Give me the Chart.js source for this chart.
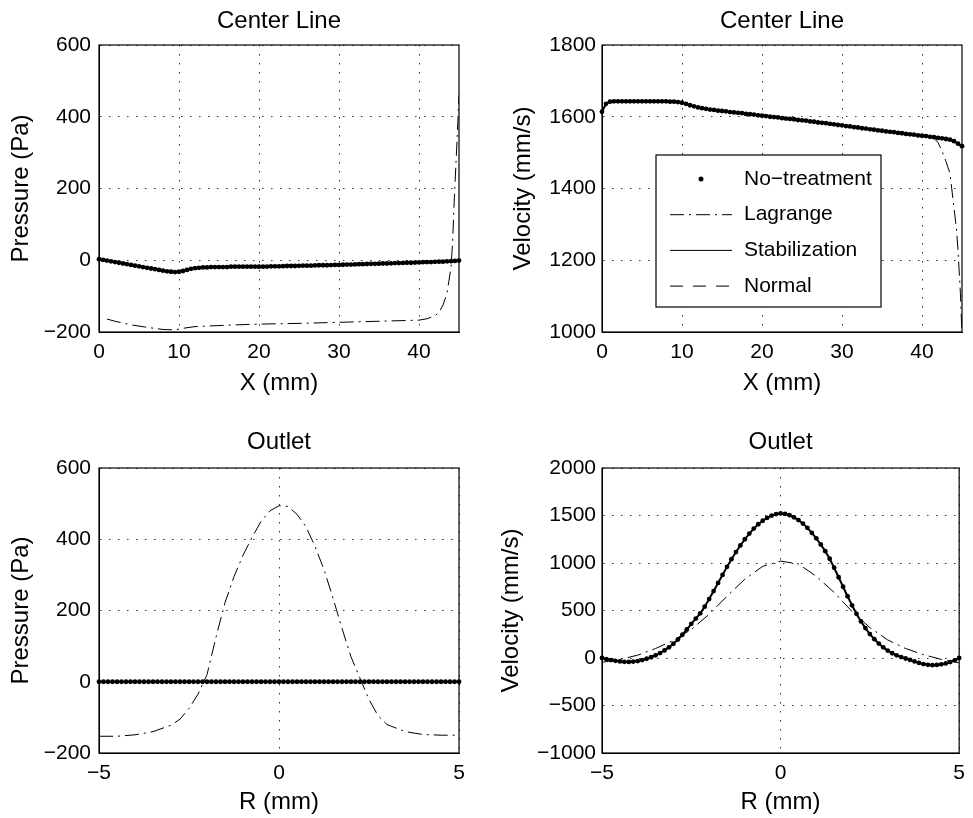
<!DOCTYPE html>
<html>
<head>
<meta charset="utf-8">
<script src="https://cdn.jsdelivr.net/npm/chart.js@4.4.1/dist/chart.umd.min.js"></script>
<style>
  html, body { margin: 0; padding: 0; background: #fff; }
  #wrap { position: relative; width: 973px; height: 818px; }
  canvas { position: absolute; }
</style>
</head>
<body>
<div id="wrap">
  <canvas id="tl" width="486" height="409" style="left:0;top:0"></canvas>
  <canvas id="tr" width="487" height="409" style="left:486px;top:0"></canvas>
  <canvas id="bl" width="486" height="409" style="left:0;top:409px"></canvas>
  <canvas id="br" width="487" height="409" style="left:486px;top:409px"></canvas>
</div>
<script>
const seriesNames = ['No\u2212treatment', 'Lagrange', 'Stabilization', 'Normal'];

// center line, X (mm)
const centerX = [
  0,0.5,1,1.5,2,2.5,3,3.5,4,4.5,
  5,5.5,6,6.5,7,7.5,8,8.5,9,9.5,
  10,10.5,11,11.5,12,12.5,13,13.5,14,14.5,
  15,15.5,16,16.5,17,17.5,18,18.5,19,19.5,
  20,20.5,21,21.5,22,22.5,23,23.5,24,24.5,
  25,25.5,26,26.5,27,27.5,28,28.5,29,29.5,
  30,30.5,31,31.5,32,32.5,33,33.5,34,34.5,
  35,35.5,36,36.5,37,37.5,38,38.5,39,39.5,
  40,40.5,41,41.5,42,42.5,43,43.5,44,44.5,
  45
];
const centerPressure = [
  3,1,-1,-3,-5,-7,-9,-11,-13,-15,
  -17,-19,-21,-23,-25,-27,-29,-31,-32,-33,
  -32,-30,-27,-24,-22,-21,-20,-20,-19,-19,
  -19,-19,-19,-18,-18,-18,-18,-18,-18,-18,
  -18,-18,-17.5,-17,-17,-17,-16.5,-16,-16,-16,
  -15.5,-15,-15,-15,-14.5,-14,-14,-14,-13.5,-13,
  -13,-12.5,-12,-12,-11.5,-11,-11,-10.5,-10,-10,
  -9.5,-9,-9,-8.5,-8,-8,-7.5,-7,-7,-6.5,
  -6,-5.5,-5,-5,-4.5,-4,-4,-3,-2.5,-2,
  -1
];
const centerVelocity = [
  1614,1636,1642,1643,1643,1643,1643,1643,1643,1643,
  1643,1643,1643,1643,1643,1643,1643,1642,1642,1641,
  1639,1636,1632,1629,1626,1624,1622,1620,1619,1617,
  1616,1615,1613,1612,1611,1610,1608,1607,1606,1604,
  1603,1602,1600,1599,1598,1596,1595,1594,1593,1591,
  1590,1589,1587,1586,1584,1583,1582,1580,1579,1577,
  1576,1574,1573,1571,1570,1568,1567,1565,1564,1562,
  1561,1559,1558,1557,1555,1554,1552,1551,1550,1548,
  1547,1546,1544,1543,1541,1540,1538,1536,1532,1525,
  1518
];
const lagCenterPX = [1,2,4,6,8,9.5,10,11,12,14,16,20,25,30,35,40,41,42,42.5,43,43.5,44,44.2,44.4,44.6,44.8,45];
const lagCenterP  = [-164,-170,-180,-187,-193,-194,-192,-188,-185,-183,-181,-178,-176,-173,-170,-167,-163,-155,-145,-125,-92,-20,50,165,260,355,460];
const lagCenterVX = [0,0.5,1,9,10,12,15,20,25,30,35,40,41,41.5,42,42.5,43,43.5,44,44.3,44.5,44.8,45];
const lagCenterV  = [1614,1636,1642,1642,1639,1626,1616,1603,1590,1576,1561,1547,1544,1540,1528,1505,1475,1442,1345,1290,1229,1108,990];

// outlet, R (mm)
const outletR = [
  -5,-4.875,-4.75,-4.625,-4.5,-4.375,-4.25,-4.125,
  -4,-3.875,-3.75,-3.625,-3.5,-3.375,-3.25,-3.125,
  -3,-2.875,-2.75,-2.625,-2.5,-2.375,-2.25,-2.125,
  -2,-1.875,-1.75,-1.625,-1.5,-1.375,-1.25,-1.125,
  -1,-0.875,-0.75,-0.625,-0.5,-0.375,-0.25,-0.125,
  0,0.125,0.25,0.375,0.5,0.625,0.75,0.875,
  1,1.125,1.25,1.375,1.5,1.625,1.75,1.875,
  2,2.125,2.25,2.375,2.5,2.625,2.75,2.875,
  3,3.125,3.25,3.375,3.5,3.625,3.75,3.875,
  4,4.125,4.25,4.375,4.5,4.625,4.75,4.875,
  5
];
const outletPressure = [
  0,0,0,0,0,0,0,0, 0,0,0,0,0,0,0,0,
  0,0,0,0,0,0,0,0, 0,0,0,0,0,0,0,0,
  0,0,0,0,0,0,0,0, 0,0,0,0,0,0,0,0,
  0,0,0,0,0,0,0,0, 0,0,0,0,0,0,0,0,
  0,0,0,0,0,0,0,0, 0,0,0,0,0,0,0,0,
  0
];
const outletVelocity = [
  0,-12,-22,-30,-36,-40,-41,-38,
  -32,-22,-8,8,28,52,80,112,
  150,195,245,300,360,415,470,540,
  620,705,790,875,960,1040,1115,1185,
  1250,1310,1362,1408,1445,1476,1499,1515,
  1522,1518,1503,1481,1452,1415,1370,1318,
  1260,1195,1125,1045,950,850,750,650,
  555,465,385,315,252,198,152,112,
  78,50,28,10,-5,-20,-36,-52,
  -64,-72,-75,-73,-67,-57,-43,-24,
  0
];
const lagOutletPX = [-5,-4.5,-4,-3.5,-3,-2.75,-2.5,-2.25,-2,-1.75,-1.5,-1.25,-1,-0.75,-0.5,-0.25,0,0.25,0.5,0.75,1,1.25,1.5,1.75,2,2.25,2.5,2.75,3,3.5,4,4.5,5];
const lagOutletP  = [-153,-153,-149,-140,-122,-105,-75,-35,20,125,222,295,355,405,450,480,494,492,470,435,380,315,235,150,70,10,-50,-95,-120,-140,-148,-150,-150];
const lagOutletVX = [-5,-4.5,-4,-3.5,-3,-2.5,-2,-1.5,-1,-0.5,0,0.5,1,1.5,2,2.5,3,3.5,4,4.5,5];
const lagOutletV  = [-45,-15,30,100,185,300,460,650,830,965,1020,990,860,690,490,320,190,100,35,-15,-50];

const FONT = '"Liberation Sans", Arial, Helvetica, sans-serif';

function pts(xs, ys) {
  return xs.map((x, i) => ({ x: x, y: ys[i] }));
}
const minus = v => String(v).replace('-', '\u2212');

function makeDatasets(xs, ys, lx, ly) {
  return [
    { label: seriesNames[0], data: pts(xs, ys), showLine: false, pointRadius: 2.4,
      pointBackgroundColor: '#000', pointBorderWidth: 0, borderColor: '#000', clip: 5 },
    { label: seriesNames[1], data: pts(lx, ly), borderColor: '#000', borderWidth: 1,
      borderDash: [14, 5, 2, 5], pointRadius: 0 },
    { label: seriesNames[2], data: pts(xs, ys), borderColor: '#000', borderWidth: 2, pointRadius: 0 },
    { label: seriesNames[3], data: pts(xs, ys), borderColor: '#000', borderWidth: 1,
      borderDash: [13, 10], pointRadius: 0 }
  ];
}

// box around the axes + panel title
const frame = {
  id: 'frame',
  afterDraw(chart, args, opts) {
    const { ctx, chartArea: a } = chart;
    ctx.save();
    ctx.strokeStyle = '#000';
    ctx.lineWidth = 1.2;
    ctx.strokeRect(a.left, a.top, a.right - a.left, a.bottom - a.top);
    ctx.fillStyle = '#000';
    ctx.font = '24px ' + FONT;
    ctx.textAlign = 'center';
    ctx.textBaseline = 'middle';
    ctx.fillText(opts.title, (a.left + a.right) / 2, a.top - opts.gap);
    ctx.restore();
  }
};

// matlab style legend box
const boxLegend = {
  id: 'boxLegend',
  afterDraw(chart, args, opts) {
    const { ctx, chartArea: a } = chart;
    const x0 = a.left + opts.dx, y0 = a.top + opts.dy;
    ctx.save();
    ctx.fillStyle = '#fff';
    ctx.fillRect(x0, y0, opts.w, opts.h);
    ctx.strokeStyle = '#000';
    ctx.lineWidth = 1.2;
    ctx.strokeRect(x0, y0, opts.w, opts.h);
    ctx.font = '21px ' + FONT;
    ctx.textBaseline = 'middle';
    ctx.textAlign = 'left';
    chart.data.datasets.forEach((ds, i) => {
      const y = y0 + opts.first + i * opts.step;
      const sx = x0 + 14, ex = sx + 62;
      ctx.fillStyle = '#000';
      if (ds.showLine === false) {
        ctx.beginPath();
        ctx.arc((sx + ex) / 2, y, 2.5, 0, Math.PI * 2);
        ctx.fill();
      } else {
        ctx.setLineDash(ds.borderDash || []);
        ctx.lineWidth = 1;
        ctx.beginPath();
        ctx.moveTo(sx, y);
        ctx.lineTo(ex, y);
        ctx.stroke();
        ctx.setLineDash([]);
      }
      ctx.fillText(ds.label, ex + 12, y);
    });
    ctx.restore();
  }
};

function panel(id, o) {
  const axisBase = {
    type: 'linear',
    grid: { color: '#333', lineWidth: 1, drawTicks: false },
    border: { color: '#000', width: 1, dash: [1.5, 7.5] }
  };
  return new Chart(document.getElementById(id), {
    type: 'line',
    data: { datasets: makeDatasets(o.xs, o.ys, o.lx, o.ly) },
    options: {
      responsive: false,
      animation: false,
      devicePixelRatio: 1,
      layout: { padding: { top: o.top, right: o.right, left: 0, bottom: 0 } },
      plugins: {
        legend: { display: false },
        tooltip: { enabled: false },
        frame: { title: o.title, gap: o.gap },
        boxLegend: { dx: 54, dy: 110, w: 225, h: 152, first: 24, step: 35.7 }
      },
      scales: {
        x: Object.assign({}, axisBase, {
          min: o.xmin, max: o.xmax,
          ticks: { stepSize: o.xstep, includeBounds: false, color: '#000', padding: 8,
                   maxRotation: 0, font: { family: FONT, size: 21 }, callback: minus },
          title: { display: true, text: o.xlabel, color: '#000',
                   font: { family: FONT, size: 24 }, padding: { top: 0, bottom: o.xpad } },
          afterFit: s => { s.height = o.xh; }
        }),
        y: Object.assign({}, axisBase, {
          min: o.ymin, max: o.ymax,
          ticks: { stepSize: o.ystep, color: '#000', padding: o.ytp,
                   font: { family: FONT, size: 21 }, callback: minus },
          title: { display: true, text: o.ylabel, color: '#000',
                   font: { family: FONT, size: 24 }, padding: { top: o.ypad, bottom: 0 } },
          afterFit: s => { s.width = o.yw; }
        })
      }
    },
    plugins: o.legend ? [frame, boxLegend] : [frame]
  });
}

panel('tl', {
  xs: centerX, ys: centerPressure, lx: lagCenterPX, ly: lagCenterP,
  title: 'Center Line', gap: 24, top: 45, right: 27, xh: 77, yw: 99,
  xmin: 0, xmax: 45, xstep: 10, ymin: -200, ymax: 600, ystep: 200,
  xlabel: 'X (mm)', ylabel: 'Pressure (Pa)', xpad: 11, ypad: 7, ytp: 8
});
panel('tr', {
  xs: centerX, ys: centerVelocity, lx: lagCenterVX, ly: lagCenterV,
  title: 'Center Line', gap: 24, top: 45, right: 11, xh: 77, yw: 116, legend: true,
  xmin: 0, xmax: 45, xstep: 10, ymin: 1000, ymax: 1800, ystep: 200,
  xlabel: 'X (mm)', ylabel: 'Velocity (mm/s)', xpad: 11, ypad: 23, ytp: 6
});
panel('bl', {
  xs: outletR, ys: outletPressure, lx: lagOutletPX, ly: lagOutletP,
  title: 'Outlet', gap: 26, top: 59, right: 27, xh: 65, yw: 99,
  xmin: -5, xmax: 5, xstep: 5, ymin: -200, ymax: 600, ystep: 200,
  xlabel: 'R (mm)', ylabel: 'Pressure (Pa)', xpad: 1, ypad: 7, ytp: 8
});
panel('br', {
  xs: outletR, ys: outletVelocity, lx: lagOutletVX, ly: lagOutletV,
  title: 'Outlet', gap: 26, top: 59, right: 11, xh: 65, yw: 116,
  xmin: -5, xmax: 5, xstep: 5, ymin: -1000, ymax: 2000, ystep: 500,
  xlabel: 'R (mm)', ylabel: 'Velocity (mm/s)', xpad: 1, ypad: 11, ytp: 6
});
</script>
</body>
</html>
